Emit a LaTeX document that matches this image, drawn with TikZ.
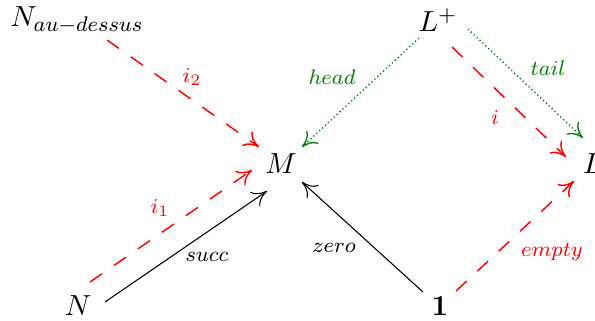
\documentclass[tikz,border=0pt]{standalone}
\usetikzlibrary{arrows.meta,calc}
\definecolor{dgreen}{rgb}{0,0.5,0}
\begin{document}
\begin{tikzpicture}[x=0.3774pt,y=-0.3774pt,
  obj/.style={inner sep=0pt, font=\fontsize{10.8}{13}\selectfont},
  lab/.style={font=\fontsize{8.4}{10}\selectfont, inner sep=0pt},
  tip/.style={-{Computer Modern Rightarrow[length=5.6pt,width=6.6pt]}},
  blackarr/.style={tip, line width=0.4pt},
  redarr/.style={tip, red, line width=0.55pt, dash pattern=on 5.5pt off 5.5pt},
  greenarr/.style={tip, dgreen, line width=0.5pt, dash pattern=on 0.5pt off 1pt}]
\useasboundingbox (0,0) rectangle (595,320);
\node[obj] (Nau) at (77,20) {$N_{au-dessus}$};
\node[obj] (Lp) at (438,20) {$L^{+}$};
\node[obj] (M) at (281,164) {$M$};
\node[obj] (L) at (593,164) {$L$};
\node[obj] (N) at (78,306) {$N$};
\node[obj] (one) at (440,306) {$\mathbf{1}$};
% connectors
\draw[redarr] ($(Nau)+(30,20)$) -- ($(M)+(-22,-17)$);
\draw[redarr] ($(N)+(12,-24)$) -- ($(M)+(-29,6)$);
\draw[blackarr] ($(N)+(27,-4)$) -- ($(M)+(-14,27)$);
\draw[blackarr] ($(one)+(-17,-14)$) -- ($(M)+(21,18)$);
\draw[redarr] ($(one)+(16,-15)$) -- ($(L)+(-19,17)$);
\draw[greenarr] ($(Lp)+(-19,18)$) -- ($(M)+(21,-17)$);
\draw[greenarr] ($(Lp)+(30,9)$) -- ($(L)+(-10,-26)$);
\draw[redarr] ($(Lp)+(14,27)$) -- ($(L)+(-27,-7)$);
% labels
\node[lab, red] (li2) at (192,77) {$i_2$};
\node[lab, red] (li1) at (160,208) {$i_1$};
\node[lab] (lsucc) at (207,257) {$succ$};
\node[lab] (lzero) at (334,248) {$zero$};
\node[lab, red] (lempty) at (552,252) {$empty$};
\node[lab, dgreen] (lhead) at (332,77) {$head$};
\node[lab, dgreen] (ltail) at (548,68) {$tail$};
\node[lab, red] (li) at (495,117) {$i$};
\end{tikzpicture}
\end{document}
